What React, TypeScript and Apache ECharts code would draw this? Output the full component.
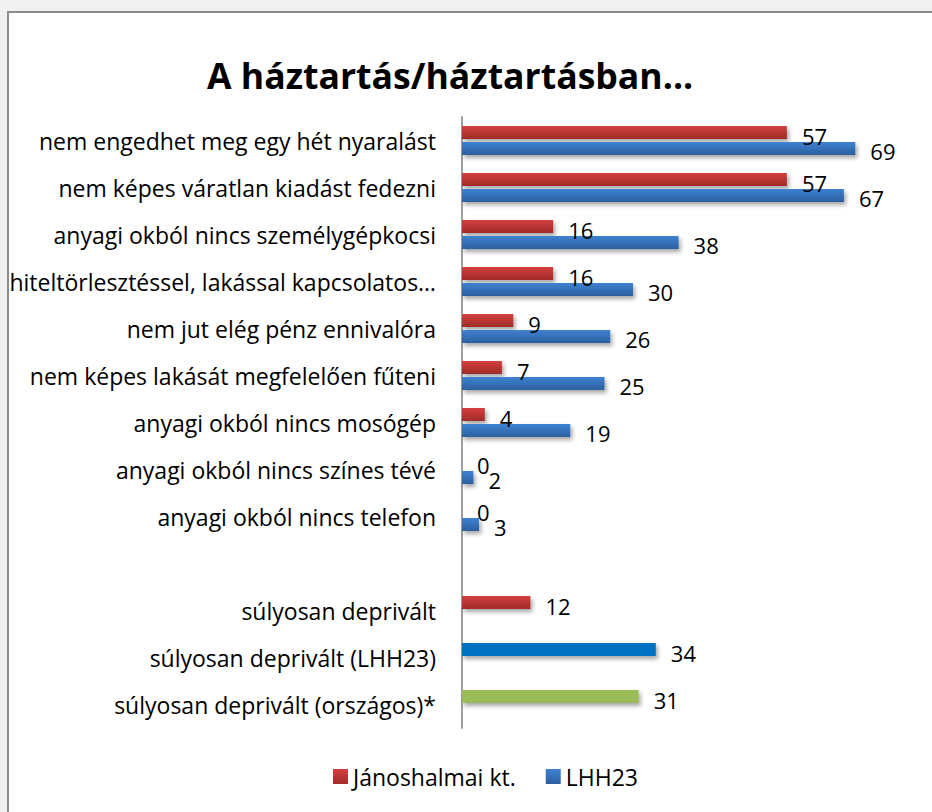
import React, { useEffect, useRef } from "react";
import * as echarts from "echarts";

const categories = [
  "nem engedhet meg egy hét nyaralást",
  "nem képes váratlan kiadást fedezni",
  "anyagi okból nincs személygépkocsi",
  "hiteltörlesztéssel, lakással kapcsolatos…",
  "nem jut elég pénz ennivalóra",
  "nem képes lakását megfelelően fűteni",
  "anyagi okból nincs mosógép",
  "anyagi okból nincs színes tévé",
  "anyagi okból nincs telefon",
  "",
  "súlyosan deprivált",
  "súlyosan deprivált (LHH23)",
  "súlyosan deprivált (országos)*",
];

const seriesNames = ["Jánoshalmai kt.", "LHH23"];
const janoshalmaValues: (number | null)[] = [57, 57, 16, 16, 9, 7, 4, 0, 0, null, 12, 34, 31];
const lhh23Values: (number | null)[] = [69, 67, 38, 30, 26, 25, 19, 2, 3, null, null, null, null];
// special colours for the summary rows drawn in the first series slot
const summaryColors: (string | null)[] = [null, null, null, null, null, null, null, null, null, null, null, "#0070C0", "#9BBB59"];

const FONT = "Open Sans";

const redGrad = () =>
  new echarts.graphic.LinearGradient(0, 0, 0, 1, [
    { offset: 0, color: "#d4403e" },
    { offset: 1, color: "#a02b29" },
  ]);
const blueGrad = () =>
  new echarts.graphic.LinearGradient(0, 0, 0, 1, [
    { offset: 0, color: "#3f82d2" },
    { offset: 1, color: "#2b5f9f" },
  ]);

export default function App() {
  const ref = useRef<HTMLDivElement>(null);
  useEffect(() => {
    if (!ref.current) return;
    const chart = echarts.init(ref.current, undefined, { renderer: "svg" });
    const labelCommon = {
      show: true,
      position: "right" as const,
      distance: 15,
      offset: [0, 3],
      color: "#000",
      fontSize: 22,
      fontFamily: FONT,
    };
    const shadow = {
      shadowColor: "rgba(0,0,0,0.35)",
      shadowBlur: 4,
      shadowOffsetX: 2,
      shadowOffsetY: 3,
    };
    chart.setOption({
      animation: false,
      title: {
        text: "A háztartás/háztartásban...",
        left: 202,
        top: 52,
        textStyle: { fontSize: 35.6, fontWeight: "bold", fontFamily: FONT, color: "#000" },
      },
      legend: {
        bottom: 19,
        left: 328,
        itemWidth: 15,
        itemHeight: 15,
        itemGap: 30,
        icon: "rect",
        textStyle: { fontSize: 23, fontFamily: FONT, color: "#000" },
        data: seriesNames,
      },
      grid: { left: 462, top: 117, width: 399, height: 611, containLabel: false },
      xAxis: {
        type: "value",
        min: 0,
        max: 70,
        show: false,
        splitLine: { show: false },
      },
      yAxis: {
        type: "category",
        inverse: true,
        data: categories,
        axisTick: { show: false },
        axisLine: { show: true, lineStyle: { color: "#a0a0a0", width: 2 } },
        axisLabel: { margin: 26, fontSize: 23, fontFamily: FONT, color: "#000", interval: 0 },
      },
      series: [
        {
          name: seriesNames[0],
          type: "bar",
          barWidth: 13,
          barGap: "23%",
          itemStyle: { color: redGrad(), ...shadow },
          label: { ...labelCommon },
          data: janoshalmaValues.map((v, i) =>
            summaryColors[i]
              ? { value: v, itemStyle: { color: summaryColors[i] } }
              : v
          ),
        },
        {
          name: seriesNames[1],
          type: "bar",
          barWidth: 13,
          barGap: "23%",
          itemStyle: { color: blueGrad(), ...shadow },
          label: { ...labelCommon },
          data: lhh23Values,
        },
      ],
    });
    return () => chart.dispose();
  }, []);
  return (
    <div style={{ position: "fixed", left: 0, top: 0, width: 932, height: 812, background: "#f0f0f0", overflow: "hidden" }}>
      <div
        style={{
          position: "absolute",
          left: 7,
          top: 11,
          width: 960,
          height: 840,
          borderLeft: "2px solid #8c8c8c",
          borderTop: "2px solid #8c8c8c",
          background: "#fff",
        }}
      />
      <div ref={ref} style={{ position: "absolute", left: 0, top: 0, width: 932, height: 812 }} />
    </div>
  );
}
